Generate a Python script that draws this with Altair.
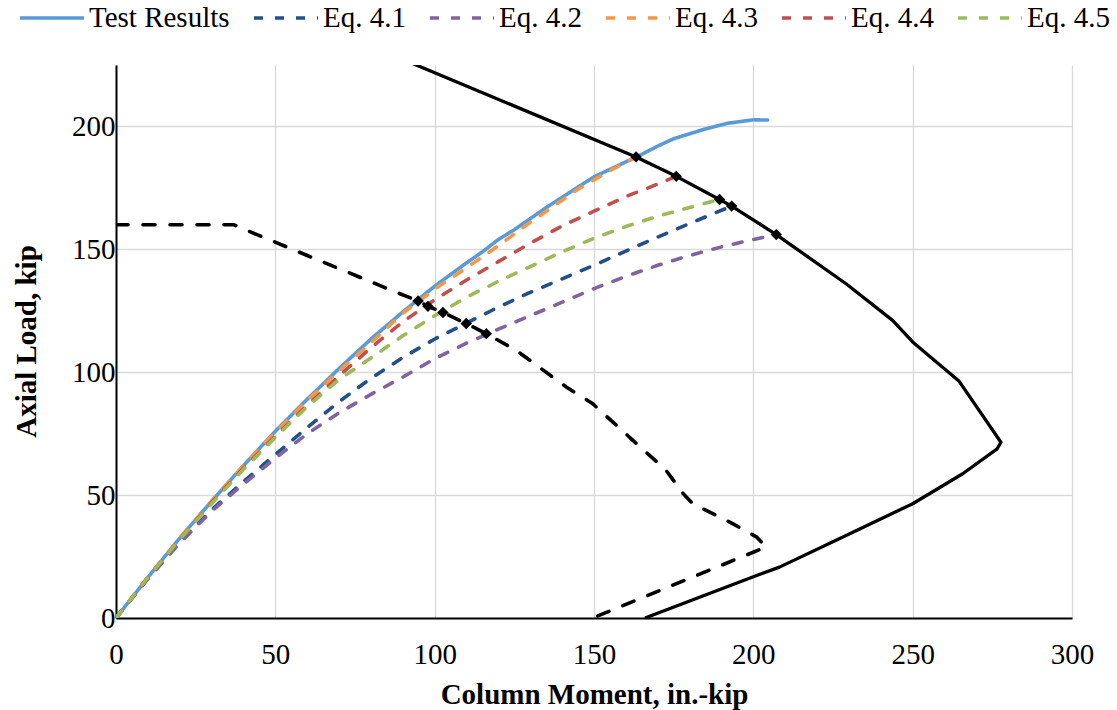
import altair as alt
import pandas as pd

# Series shown in the legend, in legend order
series_names = ["Test Results", "Eq. 4.1", "Eq. 4.2", "Eq. 4.3", "Eq. 4.4", "Eq. 4.5"]
series_colors = ["#5B9BD5", "#23508A", "#8064A2", "#F79646", "#C0504D", "#9BBB59"]
series_dashes = [[1, 0], [9, 12], [9, 12], [9, 12], [9, 12], [9, 12]]

# Measured column response (moment in in.-kip, axial load in kip)
test_m = [0, 10, 20, 30, 40, 50, 60, 70, 80, 90, 100, 110, 115, 120, 125, 135, 150, 164, 170, 175, 185, 192, 200, 204.5]
test_p = [0, 16.5, 32.5, 47.5, 62, 76, 89, 101.5, 113.5, 124.5, 135, 144.5, 149, 154, 158, 167, 179.5, 188, 192, 195, 199, 201.3, 202.7, 202.6]

# Predicted load paths
eq41_m = [0, 10, 20, 30, 40, 50, 60, 70, 80, 90, 100, 110, 120, 130, 140, 150, 160, 170, 180, 193.2]
eq41_p = [0, 16, 31, 44, 55.5, 66.5, 77.5, 88, 97.5, 106, 113.5, 120, 126.5, 132.5, 138, 143.5, 149.3, 155, 160.5, 167.6]

eq42_m = [0, 10, 20, 30, 40, 50, 60, 70, 80, 90, 100, 110, 120, 130, 140, 150, 160, 170, 180, 190, 200, 207.2]
eq42_p = [0, 16, 30.5, 43.5, 54.5, 65, 75, 83.5, 91, 98, 105.5, 111.8, 117.5, 123, 128.5, 134, 139, 143.5, 147.5, 151, 154, 156]

eq43_m = [0, 10, 20, 30, 40, 50, 60, 70, 80, 90, 100, 110, 120, 130, 145, 155, 163.2]
eq43_p = [0, 16.5, 32.5, 47.5, 62, 75.5, 88.5, 100.5, 112, 124, 133.8, 142.5, 151.5, 161, 174.5, 182, 187.6]

eq44_m = [0, 10, 20, 30, 40, 50, 60, 70, 80, 90, 100, 110, 120, 130, 140, 150, 160, 168, 175.8]
eq44_p = [0, 16.5, 32, 47, 61, 74, 86.5, 98.5, 110, 120.5, 129.5, 137.5, 145, 152.5, 159.5, 165.5, 171.5, 175.5, 179.7]

eq45_m = [0, 10, 20, 30, 40, 50, 60, 70, 80, 90, 100, 110, 120, 130, 140, 150, 160, 170, 180, 189.4]
eq45_p = [0, 16.5, 32, 46.5, 60.5, 73.5, 86, 97, 105.8, 114.8, 123, 130.5, 137, 143, 149, 154.5, 159.3, 163.5, 167, 170.3]

# Nominal interaction diagram (solid black)
nominal_m = [80, 163.2, 175.8, 189.4, 193.2, 207.2, 229.1, 243.7, 250, 264.6,
             277.7, 276.5, 265.7, 250, 229.1, 208.2, 199.8, 166]
nominal_p = [232.7, 187.6, 179.7, 170.3, 167.6, 156.0, 136, 121.1, 112.3, 96.3,
             71.5, 68.8, 58.7, 46.5, 33.6, 20.7, 16.7, 0]

# Reduced interaction diagram (dashed black)
reduced_m = [0, 37, 42, 60, 88, 94.8, 97.9, 102.6, 109.9, 116.2, 125.6, 141.3, 149.6, 162.2,
             172.6, 178, 181, 193.5, 201, 204, 149.6]
reduced_p = [160, 160, 157.2, 147.5, 132.5, 129, 126.8, 124.3, 119.8, 115.7, 108.9, 94, 87.2, 72.3,
             60.1, 50.6, 46.5, 38.4, 33, 28.9, 0]

# Intersection markers
marker_m = [163.2, 175.8, 189.4, 193.2, 207.2, 94.8, 97.9, 102.6, 109.9, 116.2]
marker_p = [187.6, 179.7, 170.3, 167.6, 156.0, 129, 126.8, 124.3, 119.8, 115.7]

series_data = [(test_m, test_p), (eq41_m, eq41_p), (eq42_m, eq42_p),
               (eq43_m, eq43_p), (eq44_m, eq44_p), (eq45_m, eq45_p)]
rows = []
for name, (ms, ps) in zip(series_names, series_data):
    for i, (m, p) in enumerate(zip(ms, ps)):
        rows.append({"series": name, "i": i, "m": m, "p": p})
curves = pd.DataFrame(rows)

nominal = pd.DataFrame({"i": range(len(nominal_m)), "m": nominal_m, "p": nominal_p})
reduced = pd.DataFrame({"i": range(len(reduced_m)), "m": reduced_m, "p": reduced_p})
markers = pd.DataFrame({"m": marker_m, "p": marker_p})

FONT = "Liberation Serif"

x_enc = alt.X("m:Q", scale=alt.Scale(domain=[0, 300], nice=False),
              axis=alt.Axis(values=[0, 50, 100, 150, 200, 250, 300],
                            title="Column Moment, in.-kip",
                            titleX=478, titleY=85, titleBaseline="alphabetic",
                            labelBaseline="alphabetic", labelPadding=45,
                            labelFlush=False))
y_enc = alt.Y("p:Q", scale=alt.Scale(domain=[0, 225], nice=False),
              axis=alt.Axis(values=[0, 50, 100, 150, 200],
                            title="Axial Load, kip",
                            titleX=-90, titleY=276, titleAngle=270,
                            titleAlign="center", titleBaseline="middle",
                            labelPadding=1))

legend = alt.Legend(title=None, orient="none", legendX=-98, legendY=-81,
                    direction="horizontal", symbolType="stroke", symbolSize=4096,
                    symbolStrokeWidth=3.5, labelFont=FONT, labelFontSize=29,
                    labelColor="black", labelOffset=3, columnPadding=17,
                    labelLimit=300)

nominal_layer = alt.Chart(nominal).mark_line(
    color="black", strokeWidth=3.3, strokeJoin="round", clip=True
).encode(x=x_enc, y=y_enc, order="i:Q")

reduced_layer = alt.Chart(reduced).mark_line(
    color="black", strokeWidth=3.6, strokeDash=[12, 15], strokeCap="round", clip=True
).encode(x="m:Q", y="p:Q", order="i:Q")

curve_layer = alt.Chart(curves).mark_line(strokeWidth=3.6, strokeCap="round", clip=True).encode(
    x="m:Q",
    y="p:Q",
    order="i:Q",
    color=alt.Color("series:N", scale=alt.Scale(domain=series_names, range=series_colors),
                    sort=series_names, legend=legend),
    strokeDash=alt.StrokeDash("series:N", scale=alt.Scale(domain=series_names, range=series_dashes),
                              sort=series_names, legend=legend),
)

marker_layer = alt.Chart(markers).mark_point(
    shape="diamond", filled=True, color="black", size=130, opacity=1
).encode(x="m:Q", y="p:Q")

chart = alt.layer(nominal_layer, reduced_layer, curve_layer, marker_layer).properties(
    width=956, height=553,
    autosize=alt.AutoSizeParams(type="none"),
    padding={"left": 116, "top": 65, "right": 45, "bottom": 92},
    background="white",
).configure_view(stroke=None).configure_axis(
    labelFont=FONT, labelFontSize=29, labelColor="black",
    titleFont=FONT, titleFontSize=29, titleFontWeight="bold", titleColor="black",
    gridColor="#D9D9D9", gridWidth=1.3,
    domainColor="black", domainWidth=2,
    ticks=False,
)

chart.save("out.html", embed_options={"renderer": "svg", "actions": False})
